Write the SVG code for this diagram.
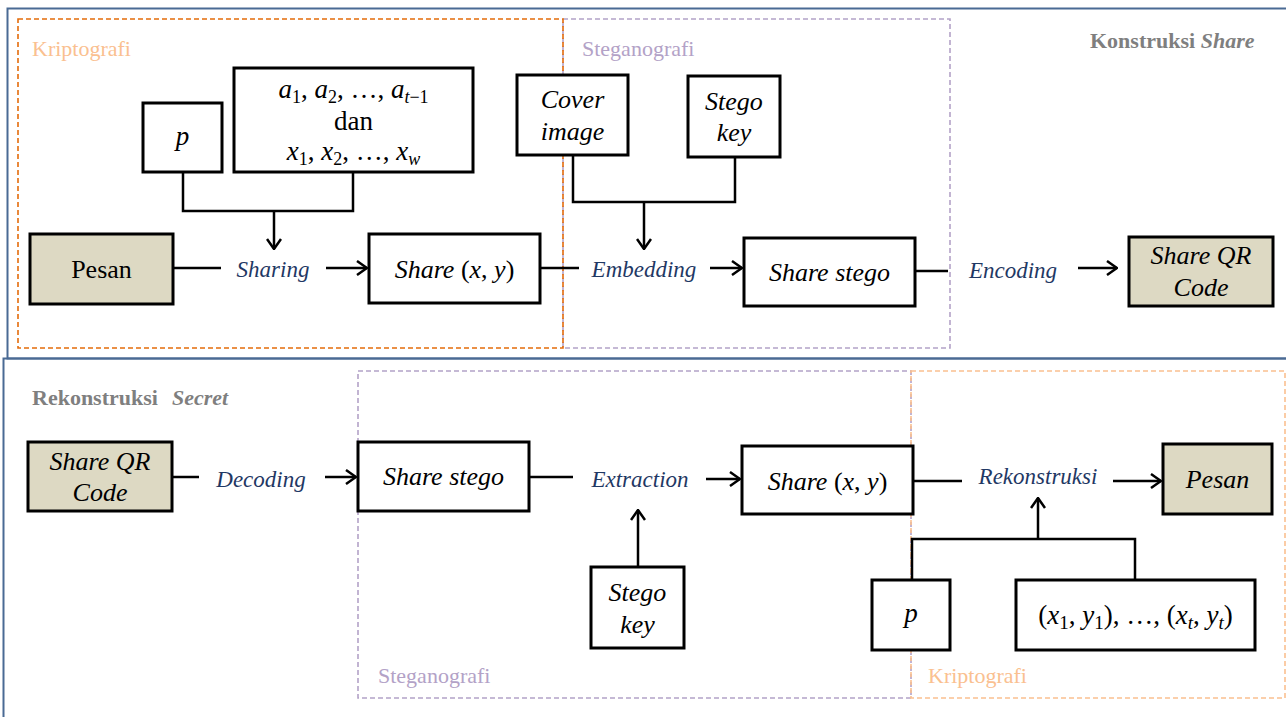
<svg xmlns="http://www.w3.org/2000/svg" width="1286" height="717" viewBox="0 0 1286 717">
<style>
.frame{fill:none;stroke:#4a6a94;stroke-width:2}
.dash{fill:none;stroke-width:1.6;stroke-dasharray:5,3}
.box{fill:#fff;stroke:#000;stroke-width:3}
.fbox{fill:#ddd9c3;stroke:#000;stroke-width:3}
.t{font-family:"Liberation Serif",serif;font-size:26px;fill:#000;text-anchor:middle}
.i{font-style:italic}
.lbl{font-family:"Liberation Serif",serif;font-size:23px;font-style:italic;fill:#1f3864;text-anchor:middle}
.ttl{font-family:"Liberation Serif",serif;font-size:22px;font-weight:bold;fill:#7f7f7f}
.reg{font-family:"Liberation Serif",serif;font-size:22px}
.m{font-family:"Liberation Serif",serif;font-size:27px;fill:#000;text-anchor:middle}
.conn{fill:none;stroke:#000;stroke-width:2.5}
</style>
<defs>
<marker id="arr" viewBox="0 0 12 16" refX="11" refY="8" markerWidth="12" markerHeight="16" orient="auto" markerUnits="userSpaceOnUse">
<path d="M1,1 L11,8 L1,15" fill="none" stroke="#000" stroke-width="2.5"/>
</marker>
</defs>
<rect width="1286" height="717" fill="#fff"/>
<g id="panel-top">
<rect class="frame" x="7.5" y="8.5" width="1290" height="350"/>
<rect class="dash" x="563" y="19" width="387" height="329" stroke="#b3a2c7"/>
<rect class="dash" x="18" y="19" width="545" height="329" stroke="#e46c0a"/>
<text class="reg" x="32" y="56" fill="#fac090">Kriptografi</text>
<text class="reg" x="582" y="56" fill="#b3a2c7">Steganografi</text>
<text class="ttl" x="1090" y="48">Konstruksi <tspan font-style="italic">Share</tspan></text>
</g>
<g id="panel-bottom">
<rect class="frame" x="3.5" y="358.5" width="1290" height="370"/>
<rect class="dash" x="358" y="371" width="553" height="327" stroke="#b3a2c7"/>
<rect class="dash" x="911" y="371" width="374" height="327" stroke="#fac090"/>
<text class="reg" x="378" y="683" fill="#b3a2c7">Steganografi</text>
<text class="reg" x="928" y="683" fill="#fac090">Kriptografi</text>
<text class="ttl" x="32" y="405" font-size="23">Rekonstruksi <tspan x="172" font-style="italic">Secret</tspan></text>
</g>
<g id="connectors">
<path class="conn" d="M183,172 V211 H353 V172"/>
<path class="conn" d="M274,211 V249" marker-end="url(#arr)"/>
<path class="conn" d="M173,268 H221"/>
<path class="conn" d="M326,268 H367" marker-end="url(#arr)"/>
<path class="conn" d="M540,268 H579"/>
<path class="conn" d="M573,155 V202 H735 V157"/>
<path class="conn" d="M644,202 V249" marker-end="url(#arr)"/>
<path class="conn" d="M710,268 H742" marker-end="url(#arr)"/>
<path class="conn" d="M915,271 H948"/>
<path class="conn" d="M1078,268 H1117" marker-end="url(#arr)"/>
<path class="conn" d="M172,477 H199"/>
<path class="conn" d="M325,477 H356" marker-end="url(#arr)"/>
<path class="conn" d="M529,477 H573"/>
<path class="conn" d="M706,479 H740" marker-end="url(#arr)"/>
<path class="conn" d="M638,567 V510" marker-end="url(#arr)"/>
<path class="conn" d="M913,481 H962"/>
<path class="conn" d="M1113,481 H1161" marker-end="url(#arr)"/>
<path class="conn" d="M912,580 V539 H1135 V580"/>
<path class="conn" d="M1038,539 V498" marker-end="url(#arr)"/>
<text class="lbl" x="273" y="277">Sharing</text>
<text class="lbl" x="644" y="277">Embedding</text>
<text class="lbl" x="1013" y="278">Encoding</text>
<text class="lbl" x="261" y="487">Decoding</text>
<text class="lbl" x="640" y="487">Extraction</text>
<text class="lbl" x="1038" y="484">Rekonstruksi</text>
</g>
<g id="node-pesan-top">
<rect class="fbox" x="30" y="234" width="143" height="70"/>
<text class="t" x="101.5" y="278">Pesan</text>
</g>
<g id="node-p-top">
<rect class="box" x="143" y="103" width="79" height="69"/>
<text class="m i" x="182.5" y="145" font-size="29">p</text>
</g>
<g id="node-coef">
<rect class="box" x="234" y="68" width="239" height="104"/>
<text class="m" x="353.5" y="98"><tspan font-style="italic">a</tspan><tspan font-size="18" dy="5">1</tspan><tspan dy="-5">, </tspan><tspan font-style="italic">a</tspan><tspan font-size="18" dy="5">2</tspan><tspan dy="-5">, …, </tspan><tspan font-style="italic">a</tspan><tspan font-size="18" dy="5"><tspan font-style="italic">t</tspan>−1</tspan></text>
<text class="m" x="353.5" y="130" font-size="24">dan</text>
<text class="m" x="353.5" y="160"><tspan font-style="italic">x</tspan><tspan font-size="18" dy="5">1</tspan><tspan dy="-5">, </tspan><tspan font-style="italic">x</tspan><tspan font-size="18" dy="5">2</tspan><tspan dy="-5">, …, </tspan><tspan font-style="italic">x</tspan><tspan font-size="18" dy="5" font-style="italic">w</tspan></text>
</g>
<g id="node-share-top">
<rect class="box" x="369" y="234" width="171" height="69"/>
<text class="t" x="454.5" y="278" font-size="27"><tspan font-style="italic">Share </tspan>(<tspan font-style="italic">x</tspan>, <tspan font-style="italic">y</tspan>)</text>
</g>
<g id="node-cover">
<rect class="box" x="517" y="75" width="111" height="80"/>
<text class="t i" x="572.5" y="108">Cover</text>
<text class="t i" x="572.5" y="140">image</text>
</g>
<g id="node-stegokey-top">
<rect class="box" x="688" y="76" width="92" height="81"/>
<text class="t i" x="734" y="110">Stego</text>
<text class="t i" x="734" y="141">key</text>
</g>
<g id="node-sharestego-top">
<rect class="box" x="744" y="238" width="171" height="68"/>
<text class="t i" x="829.5" y="281">Share stego</text>
</g>
<g id="node-qr-top">
<rect class="fbox" x="1129" y="237" width="144" height="69"/>
<text class="t i" x="1201" y="264">Share QR</text>
<text class="t i" x="1201" y="296">Code</text>
</g>
<g id="node-qr-bottom">
<rect class="fbox" x="28" y="442" width="144" height="69"/>
<text class="t i" x="100" y="470">Share QR</text>
<text class="t i" x="100" y="501">Code</text>
</g>
<g id="node-sharestego-bottom">
<rect class="box" x="358" y="442" width="171" height="69"/>
<text class="t i" x="443.5" y="485">Share stego</text>
</g>
<g id="node-stegokey-bottom">
<rect class="box" x="591" y="567" width="93" height="81"/>
<text class="t i" x="637.5" y="601">Stego</text>
<text class="t i" x="637.5" y="633">key</text>
</g>
<g id="node-share-bottom">
<rect class="box" x="742" y="446" width="171" height="68"/>
<text class="t" x="827.5" y="490" font-size="27"><tspan font-style="italic">Share </tspan>(<tspan font-style="italic">x</tspan>, <tspan font-style="italic">y</tspan>)</text>
</g>
<g id="node-pesan-bottom">
<rect class="fbox" x="1163" y="444" width="109" height="70"/>
<text class="t i" x="1217.5" y="488">Pesan</text>
</g>
<g id="node-p-bottom">
<rect class="box" x="872" y="580" width="78" height="70"/>
<text class="m i" x="911" y="622" font-size="29">p</text>
</g>
<g id="node-pairs">
<rect class="box" x="1016" y="580" width="239" height="70"/>
<text class="m" x="1135.5" y="624" font-size="29">(<tspan font-style="italic">x</tspan><tspan font-size="19" dy="5">1</tspan><tspan dy="-5">, </tspan><tspan font-style="italic">y</tspan><tspan font-size="19" dy="5">1</tspan><tspan dy="-5">), …, (</tspan><tspan font-style="italic">x</tspan><tspan font-size="19" dy="5" font-style="italic">t</tspan><tspan dy="-5">, </tspan><tspan font-style="italic">y</tspan><tspan font-size="19" dy="5" font-style="italic">t</tspan><tspan dy="-5">)</tspan></text>
</g>
</svg>
